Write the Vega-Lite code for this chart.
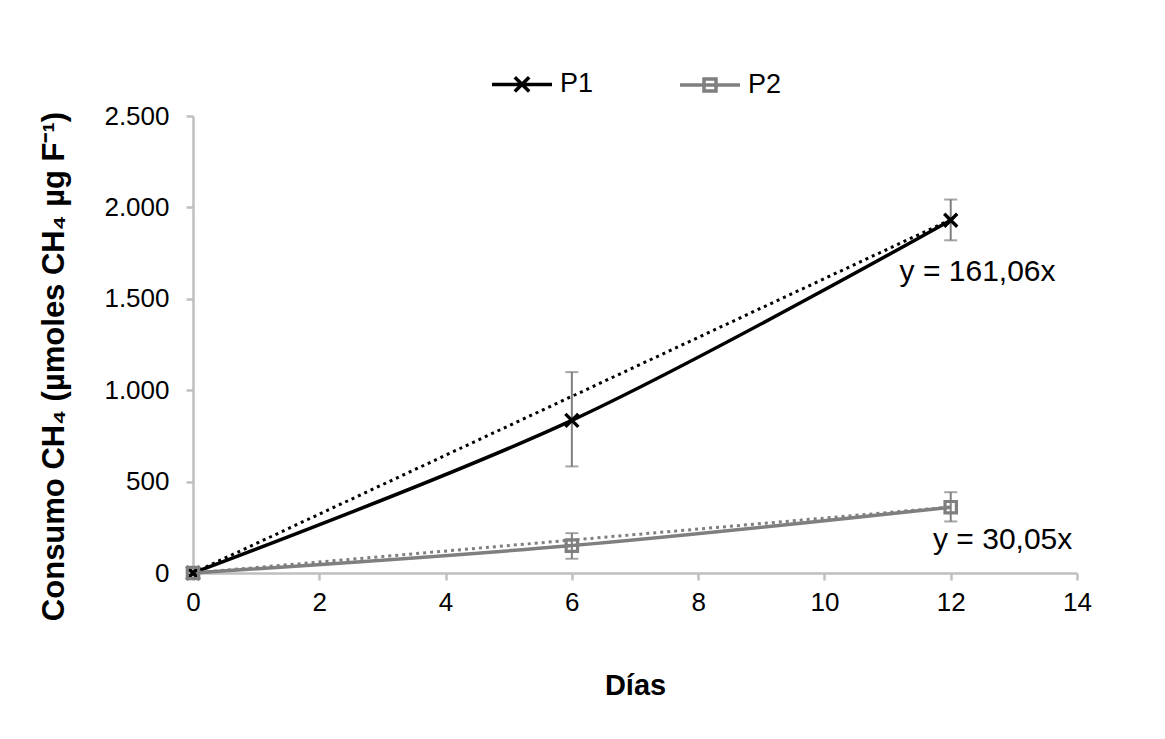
{
  "$schema": "https://vega.github.io/schema/vega-lite/v6.json",
  "autosize": "none",
  "width": 884,
  "height": 457,
  "padding": {"left": 193, "top": 116, "right": 88, "bottom": 166},
  "background": "white",
  "config": {
    "view": {"stroke": null},
    "font": "Liberation Sans",
    "axis": {
      "grid": false,
      "domainColor": "#bfbfbf",
      "domainWidth": 2.5,
      "tickColor": "#bfbfbf",
      "tickWidth": 2.5,
      "tickSize": 7,
      "labelFont": "Liberation Sans",
      "labelFontSize": 26,
      "labelColor": "#000000",
      "titleFont": "Liberation Sans",
      "titleFontSize": 29,
      "titleFontWeight": "bold",
      "titleColor": "#000000"
    },
    "axisX": {"labelPadding": 9, "titleY": 98, "titleX": 442, "labelFlush": false},
    "axisY": {"labelPadding": 17, "titleX": -123, "titleY": 250, "titleFontSize": 31}
  },
  "datasets": {
    "obs": [
      {"dia": 0, "serie": "P1", "valor": 0, "min": -12, "max": 12},
      {"dia": 6, "serie": "P1", "valor": 835, "min": 583, "max": 1099},
      {"dia": 12, "serie": "P1", "valor": 1930, "min": 1820, "max": 2043},
      {"dia": 0, "serie": "P2", "valor": 0, "min": -10, "max": 10},
      {"dia": 6, "serie": "P2", "valor": 150, "min": 78, "max": 218},
      {"dia": 12, "serie": "P2", "valor": 360, "min": 282, "max": 442}
    ],
    "tendencia": [
      {"dia": 0, "serie": "P1", "valor": 0},
      {"dia": 12, "serie": "P1", "valor": 1932.7},
      {"dia": 0, "serie": "P2", "valor": 0},
      {"dia": 12, "serie": "P2", "valor": 360.6}
    ]
  },
  "layer": [
    {
      "data": {"name": "tendencia"},
      "transform": [{"filter": "datum.serie === 'P1'"}],
      "mark": {"type": "line", "strokeWidth": 3, "strokeDash": [3, 4], "color": "#000000"},
      "encoding": {
        "x": {"field": "dia", "type": "quantitative", "scale": {"domain": [0, 14], "nice": false}, "axis": {"values": [0, 2, 4, 6, 8, 10, 12, 14], "format": "d"}, "title": "Días"},
        "y": {"field": "valor", "type": "quantitative", "scale": {"domain": [0, 2500], "nice": false}, "axis": {"values": [0, 500, 1000, 1500, 2000, 2500], "labelExpr": "replace(format(datum.value, ','), ',', '.')"}, "title": "Consumo CH₄ (µmoles CH₄ µg F⁻¹)"}
      }
    },
    {
      "data": {"name": "tendencia"},
      "transform": [{"filter": "datum.serie === 'P2'"}],
      "mark": {"type": "line", "strokeWidth": 3, "strokeDash": [3, 4], "color": "#7f7f7f"},
      "encoding": {
        "x": {"field": "dia", "type": "quantitative", "title": "Días"},
        "y": {"field": "valor", "type": "quantitative", "title": "Consumo CH₄ (µmoles CH₄ µg F⁻¹)"}
      }
    },
    {
      "data": {"name": "obs"},
      "mark": {"type": "line", "strokeWidth": 3.5, "interpolate": "catmull-rom"},
      "encoding": {
        "x": {"field": "dia", "type": "quantitative", "title": "Días"},
        "y": {"field": "valor", "type": "quantitative", "title": "Consumo CH₄ (µmoles CH₄ µg F⁻¹)"},
        "color": {
          "field": "serie", "type": "nominal",
          "scale": {"domain": ["P1", "P2"], "range": ["#000000", "#7f7f7f"]},
          "legend": {
            "orient": "none", "legendX": 297, "legendY": -64, "direction": "horizontal",
            "title": null, "padding": 0, "columnPadding": 79,
            "labelFontSize": 27, "labelOffset": 6, "labelFont": "Liberation Sans", "labelColor": "#000000",
            "symbolSize": 3600, "symbolStrokeWidth": 3.5,
            "encode": {"symbols": {"update": {
              "shape": {"signal": "datum.value === 'P1' ? 'M-1,0H1M-0.24,-0.24L0.24,0.24M-0.24,0.24L0.24,-0.24' : 'M-1,0H1M-0.2,-0.2H0.2V0.2H-0.2Z'"},
              "fill": {"value": "transparent"}
            }}}
          }
        }
      }
    },
    {
      "data": {"name": "obs"},
      "mark": {"type": "rule", "color": "#7f7f7f", "strokeWidth": 2},
      "encoding": {
        "x": {"field": "dia", "type": "quantitative", "title": "Días"},
        "y": {"field": "min", "type": "quantitative", "title": "Consumo CH₄ (µmoles CH₄ µg F⁻¹)"},
        "y2": {"field": "max"}
      }
    },
    {
      "data": {"name": "obs"},
      "mark": {"type": "tick", "orient": "horizontal", "color": "#7f7f7f", "size": 13, "thickness": 2},
      "encoding": {
        "x": {"field": "dia", "type": "quantitative", "title": "Días"},
        "y": {"field": "min", "type": "quantitative", "title": "Consumo CH₄ (µmoles CH₄ µg F⁻¹)"}
      }
    },
    {
      "data": {"name": "obs"},
      "mark": {"type": "tick", "orient": "horizontal", "color": "#7f7f7f", "size": 13, "thickness": 2},
      "encoding": {
        "x": {"field": "dia", "type": "quantitative", "title": "Días"},
        "y": {"field": "max", "type": "quantitative", "title": "Consumo CH₄ (µmoles CH₄ µg F⁻¹)"}
      }
    },
    {
      "data": {"name": "obs"},
      "transform": [{"filter": "datum.serie === 'P1'"}],
      "mark": {"type": "point", "shape": "M-1,-1L1,1M-1,1L1,-1", "size": 169, "filled": false, "strokeWidth": 3.4, "opacity": 1, "color": "#000000"},
      "encoding": {
        "x": {"field": "dia", "type": "quantitative", "title": "Días"},
        "y": {"field": "valor", "type": "quantitative", "title": "Consumo CH₄ (µmoles CH₄ µg F⁻¹)"}
      }
    },
    {
      "data": {"name": "obs"},
      "transform": [{"filter": "datum.serie === 'P2'"}],
      "mark": {"type": "point", "shape": "square", "size": 130, "filled": false, "strokeWidth": 3.2, "opacity": 1, "color": "#7f7f7f"},
      "encoding": {
        "x": {"field": "dia", "type": "quantitative", "title": "Días"},
        "y": {"field": "valor", "type": "quantitative", "title": "Consumo CH₄ (µmoles CH₄ µg F⁻¹)"}
      }
    },
    {
      "data": {"values": [{}]},
      "mark": {"type": "text", "text": "y = 161,06x", "align": "left", "baseline": "middle", "fontSize": 30, "font": "Liberation Sans", "color": "#000000"},
      "encoding": {
        "x": {"datum": 11.19, "type": "quantitative"},
        "y": {"datum": 1645, "type": "quantitative"}
      }
    },
    {
      "data": {"values": [{}]},
      "mark": {"type": "text", "text": "y = 30,05x", "align": "left", "baseline": "middle", "fontSize": 30, "font": "Liberation Sans", "color": "#000000"},
      "encoding": {
        "x": {"datum": 11.72, "type": "quantitative"},
        "y": {"datum": 180, "type": "quantitative"}
      }
    }
  ]
}
